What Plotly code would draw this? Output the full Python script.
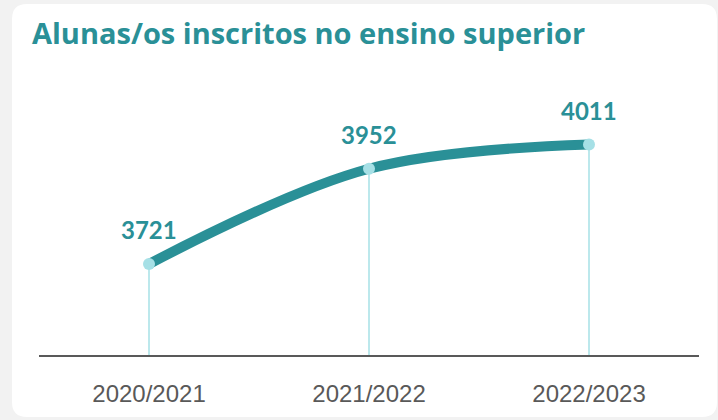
import plotly.graph_objects as go

categories = ["2020/2021", "2021/2022", "2022/2023"]
values = [3721, 3952, 4011]
y_min = 3500
y_max = 4216

TEAL = "#2a9097"
LIGHT = "#a6e0e6"
GRAY = "#595959"

W, H = 718, 420
ML, MR, MT, MB = 39, 19, 60, 65
PW = W - ML - MR
PH = H - MT - MB

def px_x(x):
    return (x - ML) / PW

def px_y(y):
    return (H - MB - y) / PH

fig = go.Figure()

# drop lines
for c, v in zip(categories, values):
    fig.add_trace(go.Scatter(x=[c, c], y=[y_min, v], mode="lines",
                             line=dict(color=LIGHT, width=1.5),
                             hoverinfo="skip", showlegend=False))

fig.add_trace(go.Scatter(x=categories, y=values, mode="lines",
                         line=dict(color=TEAL, width=10, shape="spline", smoothing=1.0),
                         showlegend=False))
fig.add_trace(go.Scatter(x=categories, y=values, mode="markers",
                         marker=dict(color=LIGHT, size=12),
                         showlegend=False))

for c, v in zip(categories, values):
    fig.add_annotation(x=c, y=v, text=f"<b>{v}</b>", showarrow=False,
                       yshift=34, font=dict(family="Lato", size=24, color=TEAL))

# white rounded card
x0, x1 = 12, 717
y0, y1 = 4, 417
r = 15
path = (f"M {px_x(x0+r)},{px_y(y0)} L {px_x(x1-r)},{px_y(y0)} "
        f"Q {px_x(x1)},{px_y(y0)} {px_x(x1)},{px_y(y0+r)} "
        f"L {px_x(x1)},{px_y(y1-r)} Q {px_x(x1)},{px_y(y1)} {px_x(x1-r)},{px_y(y1)} "
        f"L {px_x(x0+r)},{px_y(y1)} Q {px_x(x0)},{px_y(y1)} {px_x(x0)},{px_y(y1-r)} "
        f"L {px_x(x0)},{px_y(y0+r)} Q {px_x(x0)},{px_y(y0)} {px_x(x0+r)},{px_y(y0)} Z")
fig.add_shape(type="path", path=path, xref="paper", yref="paper",
              fillcolor="white", line=dict(width=0), layer="below")

fig.update_layout(
    width=W, height=H,
    margin=dict(l=ML, r=MR, t=MT, b=MB),
    paper_bgcolor="#f2f2f2",
    plot_bgcolor="rgba(0,0,0,0)",
    title=dict(text="<b>Alunas/os inscritos no ensino superior</b>",
               x=32 / W, xanchor="left", y=1 - 34 / H, yanchor="middle",
               font=dict(family="Open Sans", size=29, color=TEAL)),
    xaxis=dict(type="category", range=[-0.5, 2.5], showgrid=False, zeroline=False,
               showline=True, linecolor=GRAY, linewidth=2, ticks="",
               tickfont=dict(family="Liberation Sans", size=24, color=GRAY),
               ticklabelstandoff=16),
    yaxis=dict(range=[y_min, y_max], visible=False, showgrid=False, zeroline=False),
)

fig.write_html("out.html", config={"displayModeBar": False},
               post_script="document.body.style.margin='0';document.body.style.padding='0';")
